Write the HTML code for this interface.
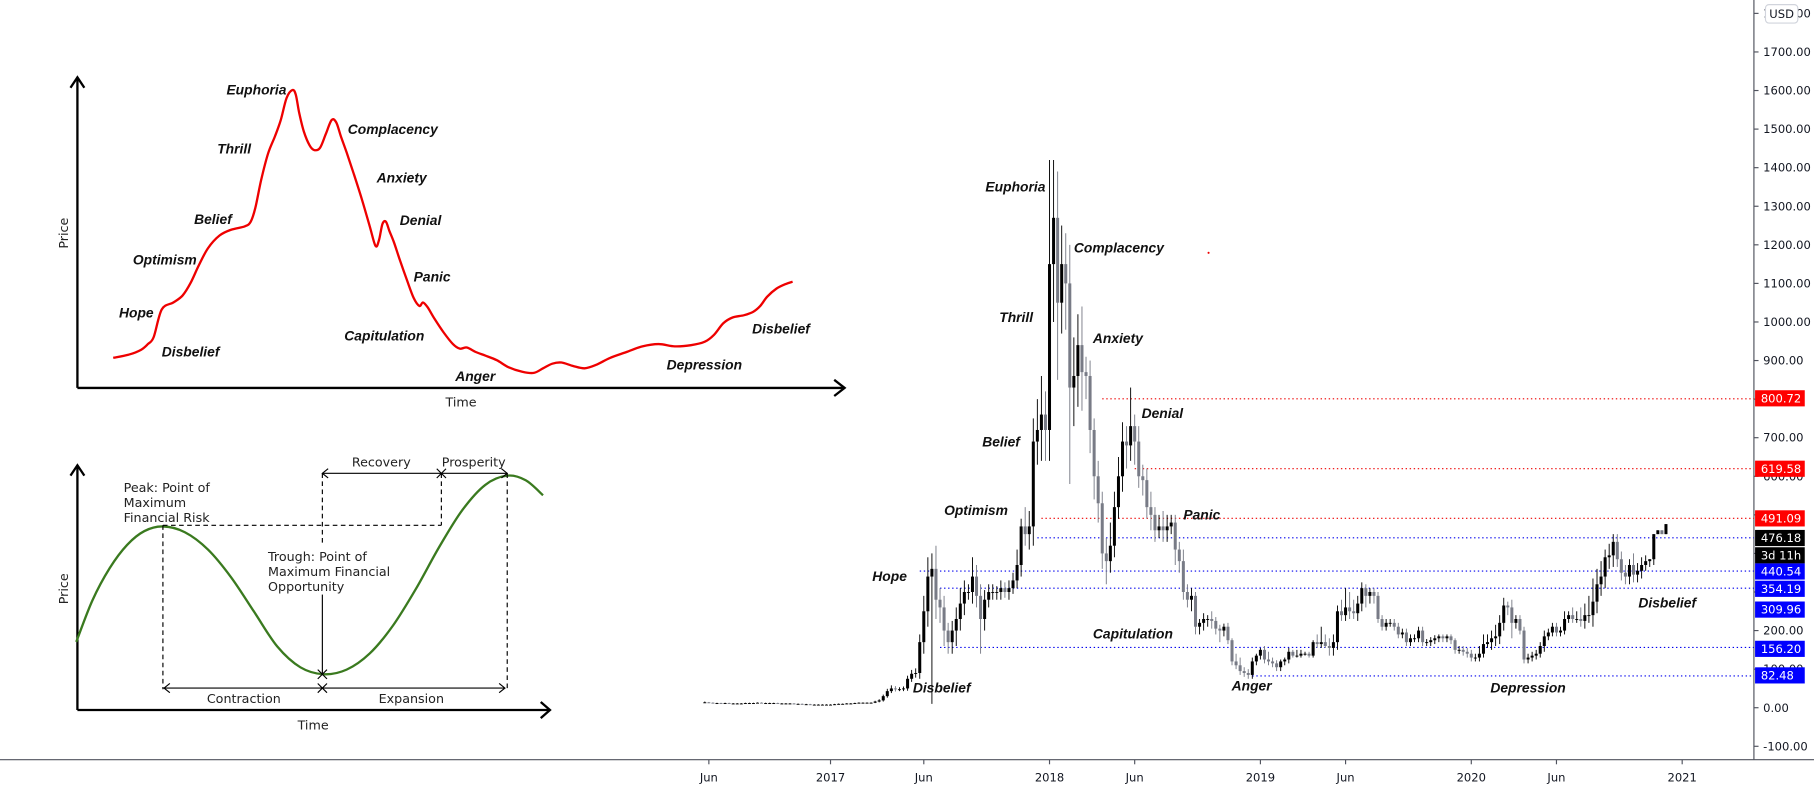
<!DOCTYPE html>
<html><head><meta charset="utf-8"><style>
html,body{margin:0;padding:0;background:#fff;overflow:hidden}
svg{display:block}
.lbl{font-family:"Liberation Sans",sans-serif;font-weight:bold;font-style:italic;font-size:12px;fill:#111}
.ax{font-family:"DejaVu Sans","Liberation Sans",sans-serif;font-size:10px;fill:#131722}
.cy{font-family:"DejaVu Sans","Liberation Sans",sans-serif;font-size:11px;fill:#222}
</style></head><body>
<svg id="root" width="1814" height="792" viewBox="0 0 1570 686" preserveAspectRatio="none" xmlns="http://www.w3.org/2000/svg">
<g id="top-left">
  <polyline points="61,76 67,67 73,76" fill="none" stroke="#000" stroke-width="2"/>
  <line x1="67" y1="67" x2="67" y2="336" stroke="#000" stroke-width="2"/>
  <line x1="67" y1="336" x2="731" y2="336" stroke="#000" stroke-width="2"/>
  <polyline points="722,329 731,336 722,343" fill="none" stroke="#000" stroke-width="2"/>
  <text class="cy" transform="translate(59,202) rotate(-90)" text-anchor="middle" font-size="13">Price</text>
  <text class="cy" x="399" y="352" text-anchor="middle" font-size="13">Time</text>
  <path id="redcurve" fill="none" stroke="#e00" stroke-width="2"/>
</g>
<g id="bottom-left">
  <polyline points="61,412 67,403 73,412" fill="none" stroke="#000" stroke-width="2"/>
  <line x1="67" y1="403" x2="67" y2="615" stroke="#000" stroke-width="2"/>
  <line x1="67" y1="615" x2="476" y2="615" stroke="#000" stroke-width="2"/>
  <polyline points="468,608 476,615 468,622" fill="none" stroke="#000" stroke-width="2"/>
  <text class="cy" transform="translate(59,510) rotate(-90)" text-anchor="middle" font-size="13">Price</text>
  <text class="cy" x="271" y="632" text-anchor="middle" font-size="13">Time</text>
  <path id="greencurve" fill="none" stroke="#3a7a1f" stroke-width="2"/>
  <g stroke="#000" stroke-width="1" stroke-dasharray="4,3" fill="none">
    <line x1="141" y1="455" x2="382" y2="455"/>
    <line x1="141" y1="455" x2="141" y2="597"/>
    <line x1="279" y1="410" x2="279" y2="472"/>
    <line x1="382" y1="410" x2="382" y2="455"/>
    <line x1="439" y1="410" x2="439" y2="597"/>
  </g>
  <g stroke="#000" stroke-width="1" fill="none">
    <line x1="279" y1="410" x2="439" y2="410"/>
    <polyline points="284,406 279,410 284,414"/>
    <polyline points="434,406 439,410 434,414"/>
    <line x1="378" y1="406" x2="386" y2="414"/><line x1="386" y1="406" x2="378" y2="414"/>
    <line x1="142" y1="596" x2="437" y2="596"/>
    <polyline points="147,592 142,596 147,600"/>
    <polyline points="432,592 437,596 432,600"/>
    <line x1="275" y1="592" x2="283" y2="600"/><line x1="283" y1="592" x2="275" y2="600"/>
    <line x1="279" y1="515" x2="279" y2="583"/>
    <line x1="275" y1="580" x2="283" y2="588"/><line x1="283" y1="580" x2="275" y2="588"/>
  </g>
  <text class="cy" x="330" y="404" text-anchor="middle">Recovery</text>
  <text class="cy" x="410" y="404" text-anchor="middle">Prosperity</text>
  <text class="cy" x="107" y="426">Peak: Point of<tspan x="107" dy="13">Maximum</tspan><tspan x="107" dy="13">Financial Risk</tspan></text>
  <text class="cy" x="232" y="486">Trough: Point of<tspan x="232" dy="13">Maximum Financial</tspan><tspan x="232" dy="13">Opportunity</tspan></text>
  <text class="cy" x="211" y="609" text-anchor="middle">Contraction</text>
  <text class="cy" x="356" y="609" text-anchor="middle">Expansion</text>
</g>
<g id="chart"></g>
</svg>
<script>
// ---- top-left sentiment curve (display coords of sketch) ----
const sentX=[98,112,122,128,133,140,150,158,165,172,180,190,200,212,217,221,226,232,238,243,248,253,256,259,263,268,272,277,282,287,291,295,300,306,313,320,325,328,331,334,337,341,346,352,358,363,366,370,376,384,392,398,404,412,420,430,440,452,462,470,478,486,496,506,516,528,542,556,570,584,598,610,618,626,634,644,652,658,664,672,680,686];
const sentY=[310,307,303,298,292,268,262,256,245,230,215,204,199,196,192,180,156,133,118,104,85,78,82,98,114,126,130,128,116,104,106,118,132,150,172,196,213,208,194,192,200,210,225,242,258,265,262,266,276,288,298,302,301,305,308,312,318,322,323,319,315,314,317,319,316,310,305,300,298,300,299,296,290,280,275,273,270,265,257,250,246,244];
const sentLabels=["Euphoria","Complacency","Thrill","Anxiety","Belief","Denial","Optimism","Panic","Hope","Capitulation","Disbelief","Anger","Depression","Disbelief"];
const sentLX=[196,301,188,326,168,346,115,358,103,298,140,394,577,651];
const sentLY=[78,112,129,154,190,191,225,240,271,291,305,326,316,285];
// ---- bottom-left cycle curve ----
const cycX=[66,80,95,110,125,141,160,180,200,220,240,260,280,300,320,340,360,380,400,420,439,455,470];
const cycY=[556,520,492,472,460,456,461,476,500,530,560,578,584,580,566,542,510,474,442,420,412,416,429];
// ---- candlestick data (weekly, from Jun 2016) ----
const closes=[14,13,12,12,11,12,11,11,11,11,12,12,12,13,12,12,12,12,11,11,11,11,10,10,9,9,8,8,8,8,8,
8,9,10,10,11,11,12,13,13,13,13,16,19,30,43,50,48,48,50,75,88,90,170,
250,340,360,280,260,200,170,200,230,270,300,300,340,290,230,280,300,300,300,310,300,310,330,370,470,450,470,690,720,760,720,
1150,1270,1050,1150,1100,830,860,940,870,860,720,600,530,400,380,420,520,600,690,680,730,690,600,590,520,500,460,470,460,470,480,410,380,300,280,290,210,220,230,230,225,205,200,210,175,120,110,95,90,85,120,135,
150,125,120,115,105,120,125,145,135,135,140,140,135,170,165,170,160,155,170,250,240,260,250,245,270,310,290,300,290,230,210,220,220,210,190,195,170,180,180,200,170,170,175,180,185,180,185,175,150,150,145,140,130,130,
140,165,170,180,185,220,265,260,220,230,200,125,130,135,140,160,185,195,210,195,200,230,240,230,230,225,240,240,275,320,340,390,395,430,385,350,340,370,345,355,370,380,385,450,460,450,476];
const wickUp=[2,1,1,1,1,1,1,1,1,1,1,1,1,1,1,1,1,1,1,1,1,1,1,1,1,1,1,1,1,1,1,
1,1,1,1,1,1,1,1,1,1,1,2,3,4,6,8,6,5,5,8,10,12,20,
40,50,40,60,30,30,20,25,30,40,30,20,50,30,30,25,20,20,15,20,15,20,20,40,20,50,40,60,80,100,60,
270,150,120,100,80,100,100,80,100,40,40,30,40,30,40,60,40,50,50,40,100,30,40,30,30,40,20,30,40,30,20,20,20,30,20,20,10,10,15,10,20,10,10,8,10,5,20,20,
10,10,10,5,5,10,20,10,8,5,5,10,5,15,10,5,5,5,20,40,20,20,20,15,30,50,40,30,20,15,10,10,10,10,10,10,10,10,10,10,10,10,10,10,10,8,8,8,5,5,5,5,5,
10,10,10,10,10,20,25,20,20,30,20,20,10,20,10,10,10,10,10,10,10,15,10,10,10,10,20,10,20,20,30,30,50,60,40,40,20,30,20,20,20,20,15,30,20,20,15];
const wickDn=[1,1,1,1,1,1,1,1,1,1,1,1,1,1,1,1,1,1,1,1,1,1,1,1,1,1,1,1,1,1,1,
1,1,1,1,1,1,1,1,1,1,1,1,2,3,4,5,6,5,5,6,8,10,15,
30,40,330,50,40,40,30,30,40,30,30,20,30,30,90,30,20,20,20,20,15,20,15,20,30,30,40,50,60,80,80,
80,150,200,80,120,250,100,80,100,60,60,60,50,40,60,30,30,30,40,60,40,60,30,40,30,40,30,20,30,30,20,40,30,20,20,30,20,20,20,20,20,15,30,15,10,10,10,10,10,10,
10,10,10,10,10,10,10,10,10,10,5,5,5,5,5,5,10,10,5,20,20,20,15,15,20,15,20,20,30,20,20,10,10,10,10,10,10,10,10,10,10,10,10,10,10,10,10,10,10,10,10,10,10,
10,10,10,10,10,10,20,20,20,20,20,40,15,10,10,10,10,10,10,15,10,10,10,10,10,10,10,10,15,20,20,30,30,30,30,30,30,20,20,20,20,20,20,20,15,15,15];
const yTicks=[-100,0,100,200,300,400,500,600,700,800,900,1000,1100,1200,1300,1400,1500,1600,1700,1800];
const xTickLabels=["Jun","2017","Jun","2018","Jun","2019","Jun","2020","Jun","2021"];
const xTickWeeks=[1,31,54,85,106,137,158,189,210,241];
const levelValues=[800.72,619.58,491.09,440.54,354.19,309.96,156.20,82.48];
const levelColors=["#e00","#e00","#e00","#00e","#00e","#00e","#00e","#00e"];
const levelStartWeek=[98,106,83,82,53,58,58,135];
const badgeText=["800.72","619.58","491.09","476.18","3d 11h","440.54","354.19","309.96","156.20","82.48"];
const badgeY=[345,406,449,466,481,495,510,528,562,585];
const badgeColor=["#f00","#f00","#f00","#000","#000","#00f","#00f","#00f","#00f","#00f"];
const phaseLabels=["Euphoria","Complacency","Thrill","Anxiety","Denial","Belief","Optimism","Panic","Hope","Capitulation","Disbelief","Anger","Depression","Disbelief"];
const phaseWeek=[69.2,91.0,72.6,95.7,107.7,68.4,59.0,118,41.3,95.7,51.3,129.9,193.7,230.2];
const phasePrice=[1338,1180,1000,945,751,677,500,488,329,180,39,45,39,260];

const NS="http://www.w3.org/2000/svg";
function mk(tag,attrs,parent){const e=document.createElementNS(NS,tag);for(const k in attrs)e.setAttribute(k,attrs[k]);parent.appendChild(e);return e;}
const yS=v=>613-v*(568/1700);
const xS=w=>610+w*3.51;
function smooth(xs,ys){let d='M'+xs[0]+','+ys[0];
 for(let i=0;i<xs.length-1;i++){const x0=xs[Math.max(0,i-1)],y0=ys[Math.max(0,i-1)],x1=xs[i],y1=ys[i],x2=xs[i+1],y2=ys[i+1],x3=xs[Math.min(xs.length-1,i+2)],y3=ys[Math.min(xs.length-1,i+2)];
  d+=' C'+(x1+(x2-x0)/6)+','+(y1+(y2-y0)/6)+' '+(x2-(x3-x1)/6)+','+(y2-(y3-y1)/6)+' '+x2+','+y2;}
 return d;}
document.getElementById('redcurve').setAttribute('d',smooth(sentX,sentY));
document.getElementById('greencurve').setAttribute('d',smooth(cycX,cycY));
const tl=document.getElementById('top-left');
sentLabels.forEach((t,i)=>{const e=mk('text',{class:'lbl',x:sentLX[i],y:sentLY[i]+4},tl);e.textContent=t;

});

const g=document.getElementById('chart');
const ax=mk('line',{x1:1518,y1:0,x2:1518,y2:658,stroke:'#50535e','stroke-width':1},g);


const bx=mk('line',{x1:0,y1:658,x2:1570,y2:658,stroke:'#50535e','stroke-width':1},g);


yTicks.forEach(v=>{const y=yS(v);
 const tk=mk('line',{x1:1518,y1:y,x2:1522,y2:y,stroke:'#50535e'},g);
 
 
 const t=mk('text',{class:'ax',x:1526,y:y+3.5},g);t.textContent=v.toFixed(2);
 
 });
xTickLabels.forEach((s,i)=>{const x=xS(xTickWeeks[i]);
 const tk=mk('line',{x1:x,y1:658,x2:x,y2:662,stroke:'#50535e'},g);
 
 
 const t=mk('text',{class:'ax',x:x,y:677,'text-anchor':'middle'},g);t.textContent=s;
 
 });
levelValues.forEach((v,i)=>{const l=mk('line',{x1:xS(levelStartWeek[i]),y1:yS(v),x2:1518,y2:yS(v),stroke:levelColors[i],'stroke-width':1,'stroke-dasharray':'1.2,2.3'},g);
 
 });
closes.forEach((c,i)=>{const o=i?closes[i-1]:c;const up=c>=o;const col=up?'#000':'#787b86';
 const hi=Math.max(o,c)+(wickUp[i]||0), lo=Math.max(0,Math.min(o,c)-(wickDn[i]||0));const x=xS(i);
 const w=mk('line',{x1:x,y1:yS(hi),x2:x,y2:yS(lo),stroke:col,'stroke-width':0.8},g);
 
 
 const top=yS(Math.max(o,c)),bot=yS(Math.min(o,c));
 const b=mk('rect',{x:x-1.3,y:top,width:2.6,height:Math.max(0.8,bot-top),fill:col},g);
 
 });
phaseLabels.forEach((t,i)=>{const e=mk('text',{class:'lbl',x:xS(phaseWeek[i]),y:yS(phasePrice[i])},g);e.textContent=t;
 
 });
const dot=mk('circle',{cx:1046,cy:219,r:0.9,fill:'#e00'},g);


badgeText.forEach((t,i)=>{const r=mk('rect',{x:1519,y:badgeY[i]-7,width:43,height:14,fill:badgeColor[i]},g);
 
 
 const e=mk('text',{class:'ax',x:1524,y:badgeY[i]+3.5},g);e.textContent=t;e.style.fill='#fff';
 
 });
const ub=mk('rect',{x:1528,y:4,width:28,height:16,rx:3,fill:'#fff',stroke:'#d1d4dc'},g);


const ut=mk('text',{class:'ax',x:1542,y:15.5,'text-anchor':'middle'},g);ut.textContent='USD';


</script>
</body></html>
